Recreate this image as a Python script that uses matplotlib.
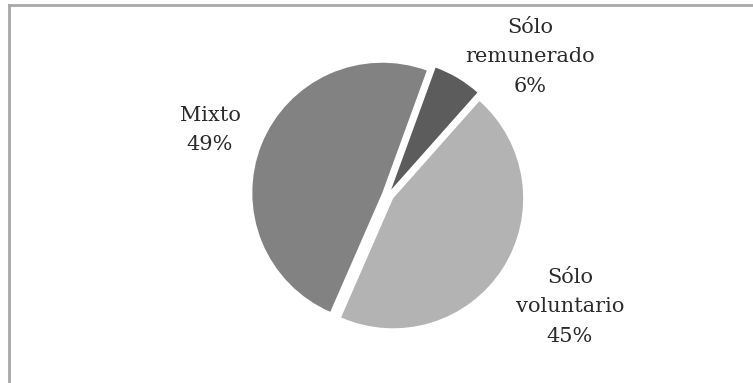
import matplotlib.pyplot as plt
from matplotlib.lines import Line2D

# Tipo de trabajo: shares in percent
categories = ["Sólo\nremunerado", "Sólo\nvoluntario", "Mixto"]
shares = [6, 45, 49]
colors = ["#5c5c5c", "#b3b3b3", "#828282"]

W, H = 753, 383
R = 130
fig = plt.figure(figsize=(W / 100, H / 100), dpi=100)
ax = fig.add_axes([0, 0, 1, 1])

# explode is applied in data units here, so scale by the radius
ax.pie(
    shares,
    colors=colors,
    startangle=70,
    counterclock=False,
    explode=[0.047 * R] * 3,
    radius=R,
    center=(388, H - 195),
    frame=True,
    wedgeprops=dict(linewidth=0),
)
ax.set_xlim(0, W)
ax.set_ylim(0, H)
ax.set_axis_off()

# label positions in pixels from top-left
label_pos = [(530, 57), (570, 307), (210, 130)]
for name, val, (x, y) in zip(categories, shares, label_pos):
    ax.text(x, H - y, f"{name}\n{val}%", ha="center", va="center",
            family="DejaVu Serif", fontsize=15, color="#2a2a2a",
            linespacing=1.72)

# chart frame (left and top edges)
fig.add_artist(Line2D([9 / W, 9 / W], [0, 1 - 5 / H], transform=fig.transFigure,
                      color="#a8a8a8", linewidth=2))
fig.add_artist(Line2D([9 / W, 1], [1 - 5 / H, 1 - 5 / H], transform=fig.transFigure,
                      color="#a8a8a8", linewidth=2))

fig.savefig("out.png", dpi=100)
